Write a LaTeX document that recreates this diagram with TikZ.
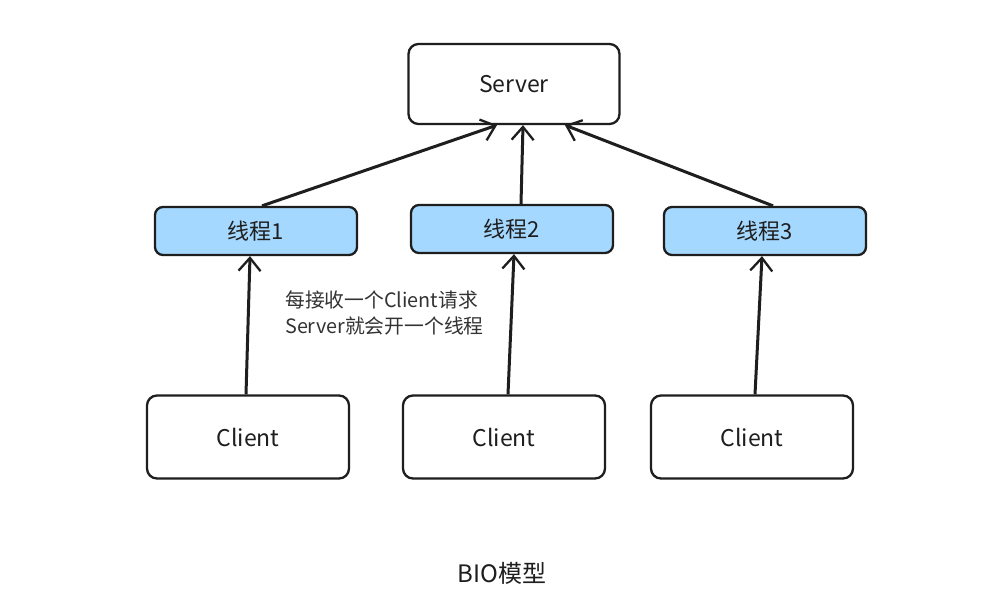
\documentclass[tikz,border=0pt]{standalone}
\usepackage{fontspec}
\setmainfont{Noto Sans CJK SC}
\usepackage{tikz}
\usetikzlibrary{arrows.meta}
\definecolor{ink}{HTML}{1E1E1E}
\definecolor{threadblue}{HTML}{A5D8FF}
\definecolor{notegray}{HTML}{333333}
\tikzset{
    box/.style={draw=ink,line width=2.3pt,rounded corners=10pt,fill=white,inner sep=0pt,font=\fontsize{23}{26}\selectfont,text=ink},
    serverbox/.style={box,minimum width=211pt,minimum height=80pt},
    clientbox/.style={box,minimum width=202pt,minimum height=83pt},
    threadbox/.style={box,fill=threadblue,minimum width=202pt,minimum height=48pt,rounded corners=8pt,font=\fontsize{22}{25}\selectfont},
    link/.style={-{Straight Barb[length=13pt,width=22pt,line width=2.3pt]},draw=ink,line width=3pt}
}
\begin{document}
\begin{tikzpicture}[x=1pt,y=-1pt]
    \useasboundingbox[fill=white] (0,0) rectangle (991,613);
    % Draw boxes
    \node[serverbox] (server) at (514,84) {Server};
    \node[threadbox] (thread1) at (256,231) {线程1};
    \node[threadbox] (thread2) at (512,229) {线程2};
    \node[threadbox] (thread3) at (765,231) {线程3};
    \node[clientbox] (client1) at (248,437) {Client};
    \node[clientbox] (client2) at (504,437) {Client};
    \node[clientbox] (client3) at (752,437) {Client};

    % Draw arrows
    \draw[link] (client1.north -| 246,0) -- (thread1.south -| 250,0);
    \draw[link] (client2.north -| 508,0) -- (thread2.south -| 514,0);
    \draw[link] (client3.north -| 755,0) -- (thread3.south -| 762,0);
    \draw[link] (thread1.north -| 262,0) -- (server.south -| 497,0);
    \draw[link] (thread2.north -| 521,0) -- (server.south -| 523,0);
    \draw[link] (thread3.north -| 773,0) -- (server.south -| 565,0);

    % Label text
    \node[anchor=west,align=left,text=notegray,font=\fontsize{19.8}{26}\selectfont,inner sep=0pt] (note) at (285,313) {每接收一个Client请求\\Server就会开一个线程};
    \node[text=ink,font=\fontsize{24}{28}\selectfont] (title) at (502,573) {BIO模型};
\end{tikzpicture}
\end{document}
